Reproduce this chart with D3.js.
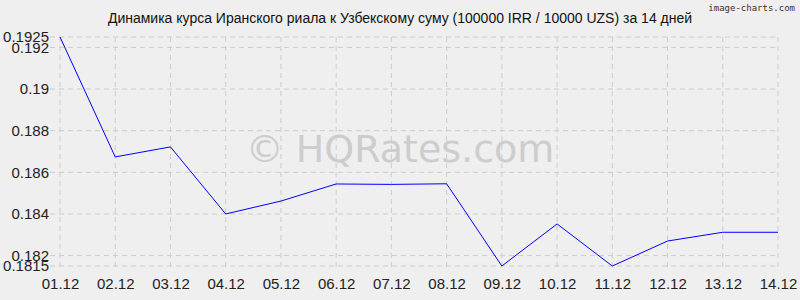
<!DOCTYPE html>
<html>
<head>
<meta charset="utf-8">
<script src="https://cdn.jsdelivr.net/npm/d3@7"></script>
<style>
    body { margin: 0; background: #efefef; }
    svg { display: block; }
</style>
</head>
<body>
<svg></svg>
<script>
// data
var dates = ['01.12', '02.12', '03.12', '04.12', '05.12', '06.12', '07.12',
    '08.12', '09.12', '10.12', '11.12', '12.12', '13.12', '14.12'];
var rates = [0.1925, 0.18674, 0.18722, 0.1840, 0.18462, 0.18544, 0.18542,
    0.18545, 0.1815, 0.18352, 0.1815, 0.18270, 0.18312, 0.18312];
var yTicks = [0.1815, 0.182, 0.184, 0.186, 0.188, 0.19, 0.192, 0.1925];

var svgWidth = 800,
    svgHeight = 300;
var margin = {top: 37, right: 22, bottom: 34, left: 60};

var svg = d3.select('svg')
    .attr('width', svgWidth)
    .attr('height', svgHeight);

svg.append('rect')
    .attr('width', svgWidth)
    .attr('height', svgHeight)
    .attr('fill', '#efefef');

var x = d3.scalePoint()
    .domain(dates)
    .range([margin.left, svgWidth - margin.right]);

var y = d3.scaleLinear()
    .domain([0.1815, 0.1925])
    .range([svgHeight - margin.bottom, margin.top]);

// grid
svg.append('g')
    .attr('class', 'grid')
    .selectAll('line')
    .data(dates)
    .enter()
    .append('line')
    .attr('x1', function (d) { return x(d); })
    .attr('x2', function (d) { return x(d); })
    .attr('y1', margin.top)
    .attr('y2', svgHeight - margin.bottom + 4)
    .attr('stroke', '#cccccc')
    .attr('stroke-dasharray', '5,4');

svg.append('g')
    .attr('class', 'grid')
    .selectAll('line')
    .data(yTicks)
    .enter()
    .append('line')
    .attr('x1', margin.left - 10)
    .attr('x2', svgWidth - margin.right)
    .attr('y1', function (d) { return y(d); })
    .attr('y2', function (d) { return y(d); })
    .attr('stroke', '#cccccc')
    .attr('stroke-dasharray', '5,4');

// axes labels
var yAxis = d3.axisLeft(y)
    .tickValues(yTicks)
    .tickFormat(function (d) { return String(+d.toFixed(4)); })
    .tickSize(0)
    .tickPadding(11);

var xAxis = d3.axisBottom(x)
    .tickSize(0)
    .tickPadding(12);

var gy = svg.append('g')
    .attr('transform', 'translate(' + margin.left + ',0)')
    .call(yAxis);
var gx = svg.append('g')
    .attr('transform', 'translate(0,' + (svgHeight - margin.bottom) + ')')
    .call(xAxis);

[gx, gy].forEach(function (g) {
    g.select('.domain').remove();
    g.selectAll('text')
        .attr('fill', '#222')
        .style('font-family', '"Liberation Sans", Arial, sans-serif')
        .style('font-size', '15px');
});

// watermark
svg.append('text')
    .attr('x', 400)
    .attr('y', 162)
    .attr('text-anchor', 'middle')
    .attr('fill', '#cdcdcd')
    .style('font-family', '"DejaVu Sans", Verdana, sans-serif')
    .style('font-size', '38px')
    .text('© HQRates.com');

// line
var line = d3.line()
    .x(function (d, i) { return x(dates[i]); })
    .y(function (d) { return y(d); });

svg.append('path')
    .datum(rates)
    .attr('fill', 'none')
    .attr('stroke', '#0000ff')
    .attr('stroke-width', 1)
    .attr('d', line);

// title
svg.append('text')
    .attr('x', 400)
    .attr('y', 23)
    .attr('text-anchor', 'middle')
    .attr('fill', '#111')
    .style('font-family', '"Liberation Sans", Arial, sans-serif')
    .style('font-size', '14px')
    .text('Динамика курса Иранского риала к Узбекскому суму (100000 IRR / 10000 UZS) за 14 дней');

svg.append('text')
    .attr('x', 795)
    .attr('y', 11)
    .attr('text-anchor', 'end')
    .attr('fill', '#333')
    .style('font-family', '"DejaVu Sans Mono", monospace')
    .style('font-size', '9px')
    .text('image-charts.com');
</script>
</body>
</html>
